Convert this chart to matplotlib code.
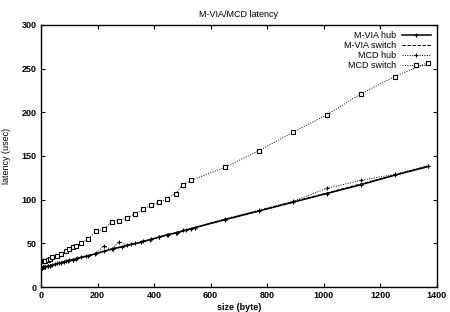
import matplotlib
matplotlib.use("Agg")
import matplotlib.pyplot as plt

title = "M-VIA/MCD latency"
xlabel = "size (byte)"
ylabel = "latency (usec)"
xticks = [0, 200, 400, 600, 800, 1000, 1200, 1400]
yticks = [0, 50, 100, 150, 200, 250, 300]

mvia_sizes = [0, 4, 8, 16, 24, 32, 48, 64, 80, 96, 112, 128, 160, 192, 224, 256,
              288, 320, 352, 384, 416, 448, 480, 512, 544, 650, 770, 890, 1010,
              1130, 1250, 1370]
mvia_hub = [22, 22, 23, 23, 24, 24, 26, 27, 29, 30, 31, 33, 35, 38, 41, 44,
            46, 49, 51, 54, 57, 60, 62, 65, 68, 77, 87, 97, 107, 117, 128, 138]
mvia_switch = [22.5, 22.5, 23, 23.5, 24, 25, 26, 27.5, 29, 30.5, 31.5, 33, 35.5, 38, 41, 44,
               46.5, 49, 51.5, 54, 57, 60, 62.5, 65, 68, 77.5, 87, 97.5, 107.5, 118, 128, 138.5]

mcd_sizes = [0, 4, 8, 12, 16, 24, 32, 40, 56, 72, 88, 100, 112, 124, 140, 166,
             196, 222, 250, 276, 304, 334, 362, 390, 418, 446, 476, 502, 530,
             650, 770, 890, 1010, 1130, 1250, 1370]
mcd_switch = [30, 30, 30, 30, 30, 31, 32, 34, 36, 38, 41, 44, 46, 47, 50, 55,
              64, 66, 75, 76, 79, 84, 89, 94, 97, 101, 107, 117, 122,
              137, 156, 177, 197, 221, 241, 257]
mcd_hub = [22, 22, 23, 23, 23, 24, 24, 25, 27, 28, 30, 31, 31, 32, 34, 36,
           39, 47, 43, 52, 48, 50, 53, 55, 57, 60, 62, 65, 67,
           78, 88, 98, 113, 122, 129, 139]

plt.rcParams['font.family'] = ['Liberation Sans', 'DejaVu Sans']
fig = plt.figure(figsize=(4.5, 3.12), dpi=100)
ax = fig.add_axes([0.091, 0.08, 0.88, 0.84])

ax.plot(mvia_sizes, mvia_hub, color='black', lw=1.1, marker='+', ms=3.5, mew=0.8,
        label='M-VIA hub')
ax.plot(mvia_sizes, mvia_switch, color='black', lw=0.8, ls=(0, (3, 1.5)),
        label='M-VIA switch')
ax.plot(mcd_sizes, mcd_hub, color='black', lw=0.7, ls=(0, (1, 1.5)), marker='+',
        ms=3.5, mew=0.8, label='MCD hub')
ax.plot(mcd_sizes, mcd_switch, color='black', lw=0.7, ls=(0, (1, 1.5)), marker='s',
        ms=3.3, mfc='white', mec='black', mew=0.8, label='MCD switch')

ax.set_xlim(0, 1400)
ax.set_ylim(0, 300)
ax.set_xticks(xticks)
ax.set_yticks(yticks)
ax.tick_params(direction='in', top=True, right=True, length=3, width=0.8,
               labelsize=6.5, pad=3)
for lab in ax.get_xticklabels() + ax.get_yticklabels():
    lab.set_fontweight('bold')
for s in ax.spines.values():
    s.set_linewidth(1.0)

ax.set_title(title, fontsize=6.5, pad=6)
ax.set_xlabel(xlabel, fontsize=6.5, fontweight='bold', labelpad=2)
ax.set_ylabel(ylabel, fontsize=6.5, labelpad=8)

leg = ax.legend(loc='upper right', frameon=False, markerfirst=False,
                fontsize=6.5, handlelength=3.2, labelspacing=0.1,
                borderaxespad=0.3, handletextpad=0.6)
for t in leg.get_texts():
    t.set_ha('right')
leg._legend_box.align = 'right'

fig.savefig('out.png', dpi=100)
